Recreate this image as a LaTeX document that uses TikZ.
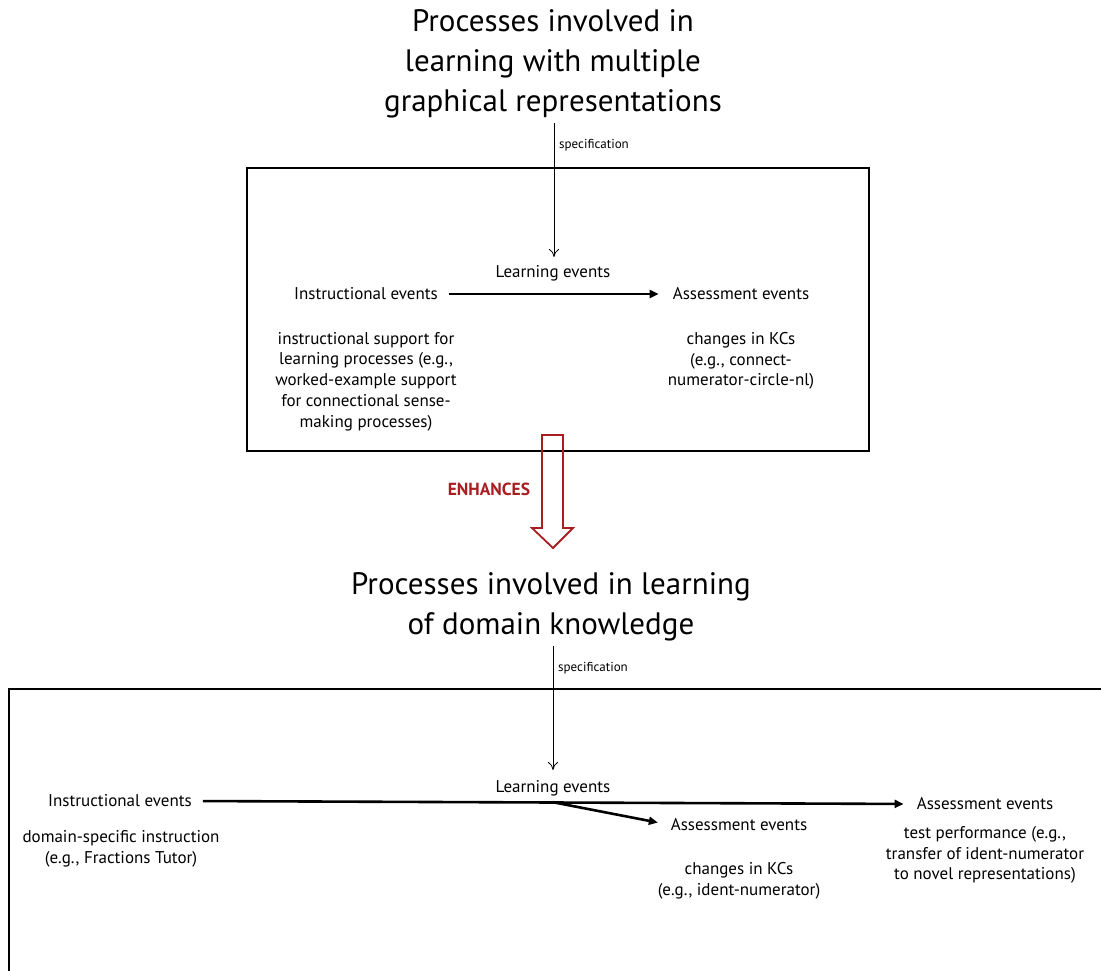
\documentclass[tikz,border=0pt]{standalone}
\usepackage{fontspec}
\setmainfont{PT Sans}
\usetikzlibrary{arrows.meta}
\definecolor{enh}{RGB}{170,30,34}
\begin{document}
\begin{tikzpicture}[x=1pt,y=-1pt,
  txt/.style={font=\fontsize{17}{20.7}\selectfont, align=center, inner sep=0pt},
  ttl/.style={font=\fontsize{31}{40}\selectfont, align=center, inner sep=0pt},
  spec/.style={font=\fontsize{13}{14}\selectfont, anchor=west, inner sep=0pt},
  specarrow/.style={-{To[length=8pt,width=10pt]}, line width=0.8pt},
  flowarrow/.style={-{Triangle[length=9pt,width=8pt]}, line width=2.6pt},
  frame/.style={draw, line width=1.4pt},
  bigarrow/.style={draw=enh, line width=1.8pt, line join=miter},
]
\clip (0,0) rectangle (1101,970);
\fill[white] (0,0) rectangle (1101,970);

% ---------- upper part ----------
\node[ttl] (t1) at (553,64) {Processes involved in\\learning with multiple\\graphical representations};
\coordinate (s1a) at (554,123);
\coordinate (s1b) at (554,257);
\draw[specarrow] (s1a) -- (s1b);
\node[spec] (sp1) at (559,145) {specification};

\draw[frame] (247,168) rectangle (869,451);
\node[txt] (le1) at (553,273) {Learning events};
\node[txt] (ie1) at (366,294) {Instructional events};
\node[txt] (ae1) at (741,294) {Assessment events};
\draw[flowarrow, shorten <=11pt, shorten >=14pt] (ie1.east) -- (ae1.west);
\node[txt] (is1) at (366,381.5) {instructional support for\\learning processes (e.g.,\\worked-example support\\for connectional sense-\\making processes)};
\node[txt] (kc1) at (741,361) {changes in KCs\\(e.g., connect-\\numerator-circle-nl)};

% ---------- enhances ----------
\node[font=\fontsize{17.5}{20}\selectfont\bfseries, text=enh, inner sep=0pt] (enh) at (489,489) {ENHANCES};
\draw[bigarrow] (542,435) -- (563,435) -- (563,528) -- (573,528) -- (553,548) -- (532,528) -- (542,528) -- cycle;

% ---------- lower part ----------
\node[ttl] (t2) at (551,607) {Processes involved in learning\\of domain knowledge};
\coordinate (s2a) at (553,646);
\coordinate (s2b) at (553,770);
\draw[specarrow] (s2a) -- (s2b);
\node[spec] (sp2) at (558,668) {specification};

\draw[frame] (9,689) rectangle (1115,990);
\node[txt] (le2) at (553,788) {Learning events};
\node[txt] (ie2) at (120,801) {Instructional events};
\node[txt] (ae3) at (985,804) {Assessment events};
\node[txt] (ae2) at (739,825) {Assessment events};
\coordinate (br) at (553,802.2);
\draw[flowarrow, shorten <=11pt, shorten >=13pt] (ie2.east) -- (ae3.west);
\draw[flowarrow, shorten >=13pt] (br) -- (ae2.west);
\node[txt] (ds) at (121,848.5) {domain-specific instruction\\(e.g., Fractions Tutor)};
\node[txt] (kc2) at (739,880.5) {changes in KCs\\(e.g., ident-numerator)};
\node[txt] (tp) at (985,855) {test performance (e.g.,\\transfer of ident-numerator\\to novel representations)};
\end{tikzpicture}
\end{document}
